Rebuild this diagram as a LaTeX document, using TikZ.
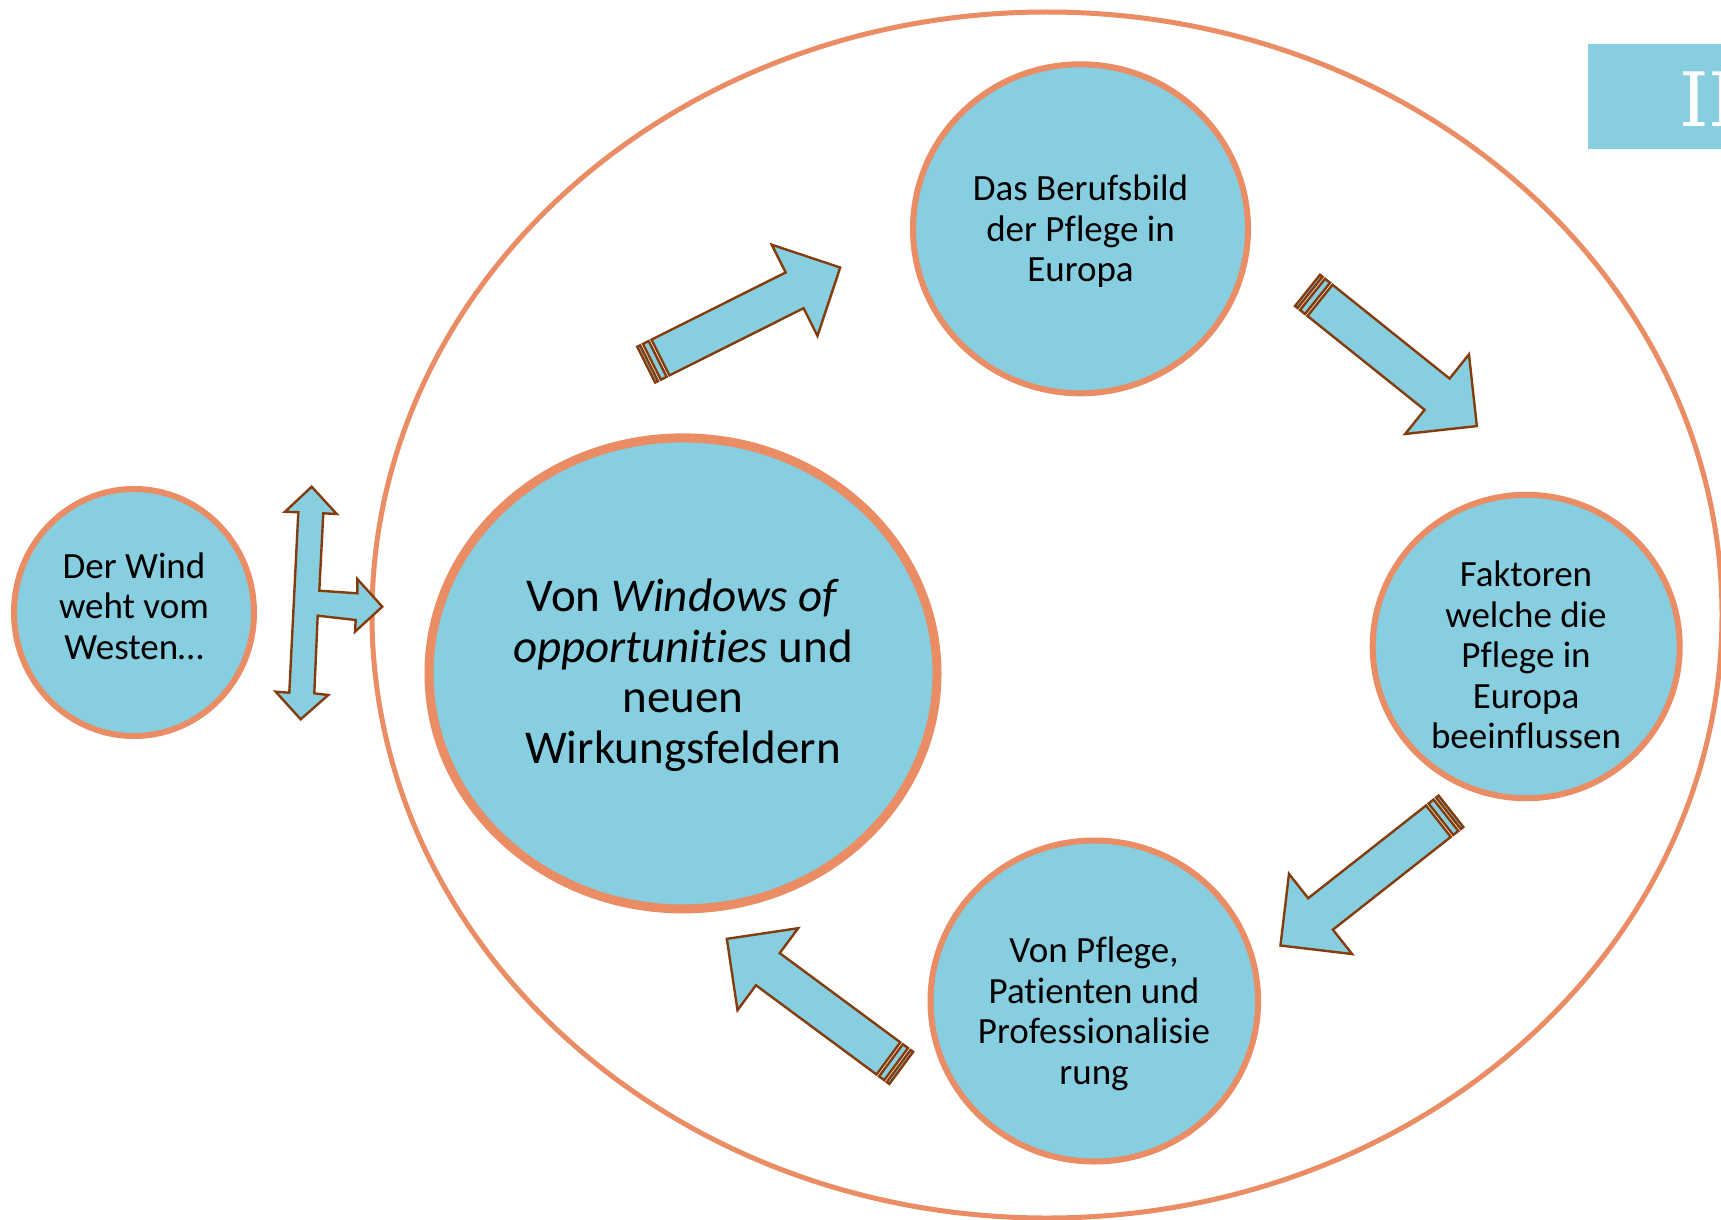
\documentclass[tikz,border=0pt]{standalone}
\usepackage{fontspec}
\setmainfont{Carlito}[Ligatures=NoCommon]
\newfontfamily\slabfont{DejaVu Serif}
\usetikzlibrary{shapes.geometric}
\definecolor{bluefill}{RGB}{134,206,224}
\definecolor{orangeline}{RGB}{234,140,100}
\definecolor{brownline}{RGB}{132,60,12}
\newcommand\stripedarrow[3]{%
  \begin{scope}[shift={(#1,#2)}, rotate=#3]
    \draw[blockarrow] (0,-20) -- (150,-20) -- (150,-51) -- (201,0) -- (150,51) -- (150,20) -- (0,20) -- cycle;
    \draw[blockarrow] (-16,-20) rectangle (-12.8,20);
    \draw[blockarrow] (-9.6,-20) rectangle (-3.2,20);
  \end{scope}}
\begin{document}
\begin{tikzpicture}[x=1pt,y=-1pt,
  bubble/.style={ellipse, draw=orangeline, fill=bluefill, line width=6pt, inner sep=0pt},
  blockarrow/.style={draw=brownline, fill=bluefill, line width=2.4pt, line join=miter},
  txt/.style={align=center, font=\fontsize{37}{40.6}\selectfont, text=black, inner sep=0pt}]
\useasboundingbox (0,0) rectangle (1721,1220);
\fill[white] (0,0) rectangle (1721,1220);

% outer frame
\node[ellipse, draw=orangeline, line width=5pt, minimum width=1350pt, minimum height=1206pt, inner sep=0pt] (frame) at (1047,615) {};

% title box
\node[fill=bluefill, anchor=north west, minimum width=150pt, minimum height=105pt, inner sep=0pt] (titlebox) at (1588,44) {};
\node[anchor=base west, text=white, font=\slabfont\fontsize{75}{80}\selectfont, inner sep=0pt] (title) at (1679,127) {II};

% bubbles
\node[bubble, minimum width=240pt, minimum height=247pt] (wind) at (134,612.5) {};
\node[bubble, line width=9pt, minimum width=508pt, minimum height=471pt] (center) at (683,673.4) {};
\node[bubble, minimum width=335pt, minimum height=329pt] (berufsbild) at (1080.5,228.8) {};
\node[bubble, minimum width=307pt, minimum height=303.4pt] (faktoren) at (1526.2,646.5) {};
\node[bubble, minimum width=327.6pt, minimum height=321pt] (pflege) at (1094.3,1001) {};

% texts
\node[txt] (windtxt) at (134,606) {Der Wind\\weht vom\\Westen…};
\node[txt] (berufstxt) at (1080.5,231.5) {Das Berufsbild\\der Pflege in\\Europa};
\node[txt] (faktorentxt) at (1526,655) {Faktoren\\welche die\\Pflege in\\Europa\\beeinflussen};
\node[txt] (pflegetxt) at (1094,1014) {Von Pflege,\\Patienten und\\Professionalisie\\rung};
\node[txt, font=\fontsize{47}{50.5}\selectfont] (centertxt) at (683,675) {Von \textit{Windows of}\\\textit{opportunities} und\\neuen\\Wirkungsfeldern};

% T-shaped arrow on the left
\draw[blockarrow] (311.7,486.7) -- (336.7,514) -- (323.3,513.3) -- (319.3,590.7) -- (357.3,593.3) -- (357.3,579) -- (382.3,606.7) -- (355,631.7) -- (355.7,620) -- (317.7,615.7) -- (314.3,693.3) -- (328.3,695) -- (300.7,719.3) -- (275.7,691.7) -- (289.3,692.7) -- (298.3,512.3) -- (285,511.7) -- cycle;

% striped arrows
\stripedarrow{660.5}{357.5}{26.6}
\stripedarrow{1320}{300.4}{-38.7}
\stripedarrow{1438.4}{821.2}{218.2}
\stripedarrow{888.4}{1058.4}{143.5}
\end{tikzpicture}
\end{document}
